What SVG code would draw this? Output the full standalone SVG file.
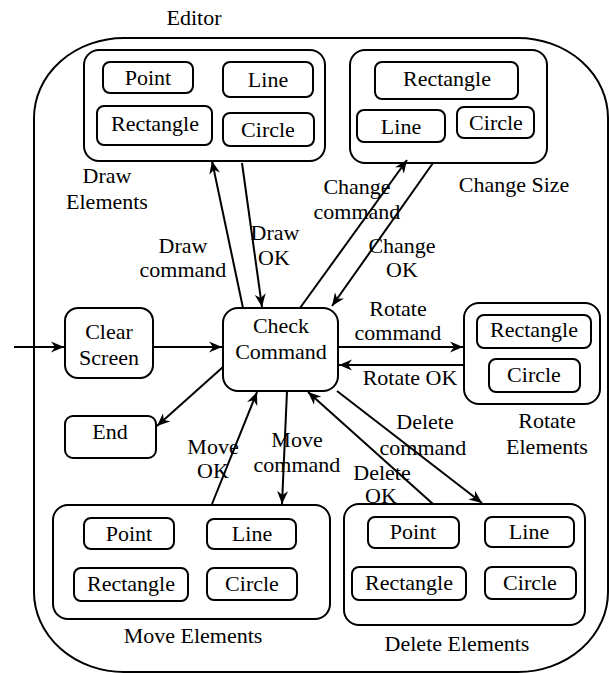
<svg xmlns="http://www.w3.org/2000/svg" width="609" height="673" viewBox="0 0 609 673">
  <style>
    .box { fill: #fff; stroke: #000; stroke-width: 2; }
    .frame { fill: none; stroke: #000; stroke-width: 2; }
    .lbl { font-family: "Liberation Serif", "Times New Roman", serif; font-size: 22px; fill: #000; text-anchor: middle; }
    .conn { stroke: #000; stroke-width: 2; fill: none; marker-end: url(#arrow); }
  </style>
  <defs>
    <marker id="arrow" markerUnits="userSpaceOnUse" viewBox="0 0 14 12" markerWidth="14" markerHeight="12" refX="13" refY="6" orient="auto">
      <path d="M0,0.5 L13,6 L0,11.5 L4,6 Z" fill="#000"/>
    </marker>
  </defs>
  <rect width="609" height="673" fill="#fff"/>

  <!-- Editor boundary -->
  <g id="editor">
    <rect class="frame" x="34" y="38" width="574" height="634" rx="90" ry="80"/>
    <text class="lbl" x="194" y="25">Editor</text>
  </g>

  <!-- Draw Elements -->
  <g id="draw-elements">
    <rect class="box" x="84" y="50" width="241" height="111" rx="15"/>
    <rect class="box" x="103" y="62" width="90" height="31" rx="7"/>
    <text class="lbl" x="148" y="85">Point</text>
    <rect class="box" x="223" y="62" width="90" height="35" rx="7"/>
    <text class="lbl" x="268" y="87">Line</text>
    <rect class="box" x="97" y="106" width="115" height="39" rx="7"/>
    <text class="lbl" x="155" y="131">Rectangle</text>
    <rect class="box" x="223" y="113" width="91" height="33" rx="7"/>
    <text class="lbl" x="268" y="137">Circle</text>
    <text class="lbl" x="107" y="183">Draw</text>
    <text class="lbl" x="107" y="209">Elements</text>
  </g>

  <!-- Change Size -->
  <g id="change-size">
    <rect class="box" x="350" y="50" width="197" height="113" rx="15"/>
    <rect class="box" x="375" y="62" width="143" height="37" rx="7"/>
    <text class="lbl" x="447" y="86">Rectangle</text>
    <rect class="box" x="357" y="110" width="88" height="32" rx="7"/>
    <text class="lbl" x="401" y="134">Line</text>
    <rect class="box" x="457" y="107" width="77" height="31" rx="7"/>
    <text class="lbl" x="496" y="130">Circle</text>
    <text class="lbl" x="514" y="192">Change Size</text>
  </g>

  <!-- Clear Screen -->
  <g id="clear-screen">
    <rect class="box" x="65" y="308" width="88" height="70" rx="13"/>
    <text class="lbl" x="109" y="339">Clear</text>
    <text class="lbl" x="109" y="365">Screen</text>
  </g>

  <!-- Check Command -->
  <g id="check-command">
    <rect class="box" x="223" y="308" width="115" height="83" rx="15"/>
    <text class="lbl" x="281" y="333">Check</text>
    <text class="lbl" x="281" y="359">Command</text>
  </g>

  <!-- End -->
  <g id="end">
    <rect class="box" x="65" y="416" width="91" height="42" rx="8"/>
    <text class="lbl" x="110" y="439">End</text>
  </g>

  <!-- Rotate Elements -->
  <g id="rotate-elements">
    <rect class="box" x="464" y="303" width="136" height="101" rx="15"/>
    <rect class="box" x="477" y="315" width="114" height="33" rx="7"/>
    <text class="lbl" x="534" y="337">Rectangle</text>
    <rect class="box" x="489" y="359" width="91" height="33" rx="7"/>
    <text class="lbl" x="534" y="382">Circle</text>
    <text class="lbl" x="547" y="428">Rotate</text>
    <text class="lbl" x="547" y="454">Elements</text>
  </g>

  <!-- Move Elements -->
  <g id="move-elements">
    <rect class="box" x="53" y="505" width="277" height="114" rx="15"/>
    <rect class="box" x="84" y="518" width="90" height="31" rx="7"/>
    <text class="lbl" x="129" y="541">Point</text>
    <rect class="box" x="207" y="519" width="89" height="30" rx="7"/>
    <text class="lbl" x="252" y="541">Line</text>
    <rect class="box" x="74" y="568" width="114" height="33" rx="7"/>
    <text class="lbl" x="131" y="591">Rectangle</text>
    <rect class="box" x="207" y="568" width="90" height="32" rx="7"/>
    <text class="lbl" x="252" y="591">Circle</text>
    <text class="lbl" x="193" y="643">Move Elements</text>
  </g>

  <!-- Delete Elements -->
  <g id="delete-elements">
    <rect class="box" x="344" y="504" width="241" height="121" rx="15"/>
    <rect class="box" x="368" y="517" width="91" height="31" rx="7"/>
    <text class="lbl" x="413" y="539">Point</text>
    <rect class="box" x="485" y="517" width="89" height="30" rx="7"/>
    <text class="lbl" x="529" y="539">Line</text>
    <rect class="box" x="352" y="567" width="114" height="33" rx="7"/>
    <text class="lbl" x="409" y="590">Rectangle</text>
    <rect class="box" x="485" y="567" width="91" height="32" rx="7"/>
    <text class="lbl" x="530" y="590">Circle</text>
    <text class="lbl" x="457" y="651">Delete Elements</text>
  </g>

  <!-- Connectors -->
  <g id="connectors">
    <line class="conn" x1="14" y1="347" x2="64" y2="347"/>
    <line class="conn" x1="153" y1="347" x2="222" y2="347"/>
    <line class="conn" x1="243" y1="308" x2="212" y2="161"/>
    <line class="conn" x1="242" y1="163" x2="262" y2="307"/>
    <line class="conn" x1="300" y1="308" x2="407" y2="160"/>
    <line class="conn" x1="433" y1="163" x2="332" y2="306"/>
    <line class="conn" x1="338" y1="347" x2="463" y2="347"/>
    <line class="conn" x1="464" y1="365" x2="339" y2="365"/>
    <line class="conn" x1="223" y1="367" x2="157" y2="426"/>
    <line class="conn" x1="212" y1="504" x2="257" y2="392"/>
    <line class="conn" x1="287" y1="391" x2="282" y2="504"/>
    <line class="conn" x1="433" y1="504" x2="308" y2="392"/>
    <line class="conn" x1="337" y1="391" x2="482" y2="503"/>
  </g>

  <!-- Connector labels -->
  <g id="connector-labels">
    <text class="lbl" x="183" y="253">Draw</text>
    <text class="lbl" x="183" y="277">command</text>
    <text class="lbl" x="275" y="240">Draw</text>
    <text class="lbl" x="274" y="265">OK</text>
    <text class="lbl" x="357" y="194">Change</text>
    <text class="lbl" x="357" y="219">command</text>
    <text class="lbl" x="402" y="253">Change</text>
    <text class="lbl" x="402" y="277">OK</text>
    <text class="lbl" x="398" y="316">Rotate</text>
    <text class="lbl" x="398" y="340">command</text>
    <text class="lbl" x="410" y="385">Rotate OK</text>
    <text class="lbl" x="213" y="454">Move</text>
    <text class="lbl" x="213" y="478">OK</text>
    <text class="lbl" x="297" y="447">Move</text>
    <text class="lbl" x="297" y="472">command</text>
    <text class="lbl" x="425" y="429">Delete</text>
    <text class="lbl" x="423" y="455">command</text>
    <text class="lbl" x="382" y="480">Delete</text>
    <text class="lbl" x="381" y="503">OK</text>
  </g>
</svg>
